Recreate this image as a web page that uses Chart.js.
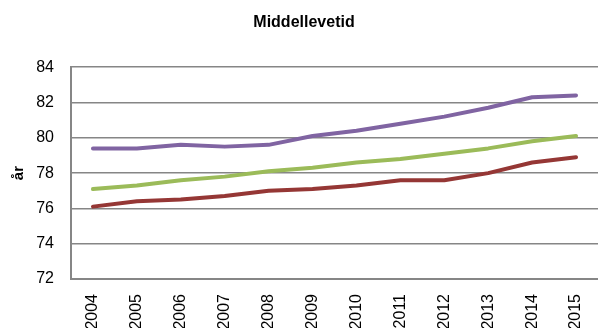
<!DOCTYPE html>
<html lang="no">
<head>
<meta charset="utf-8">
<script src="https://cdn.jsdelivr.net/npm/chart.js@4/dist/chart.umd.min.js"></script>
<style>
  html, body { margin: 0; padding: 0; background: #fff; }
  #wrap { width: 598px; height: 328px; }
</style>
</head>
<body>
<div id="wrap"><canvas id="chart" width="598" height="328"></canvas></div>
<script>
// data
const years = ['2004','2005','2006','2007','2008','2009','2010','2011','2012','2013','2014','2015'];
const purpleVals = [79.4, 79.4, 79.6, 79.5, 79.6, 80.1, 80.4, 80.8, 81.2, 81.7, 82.3, 82.4];
const greenVals  = [77.1, 77.3, 77.6, 77.8, 78.1, 78.3, 78.6, 78.8, 79.1, 79.4, 79.8, 80.1];
const redVals    = [76.1, 76.4, 76.5, 76.7, 77.0, 77.1, 77.3, 77.6, 77.6, 78.0, 78.6, 78.9];
const yTicks = [72, 74, 76, 78, 80, 82, 84];

const font = '"Liberation Sans", Arial, sans-serif';
const gridGrey = '#868686';

function line(data, color) {
  return {
    data: data,
    borderColor: color,
    backgroundColor: color,
    borderWidth: 4,
    pointRadius: 0,
    tension: 0,
    fill: false,
    borderCapStyle: 'round',
    borderJoinStyle: 'round'
  };
}

new Chart(document.getElementById('chart'), {
  type: 'line',
  data: {
    labels: years,
    datasets: [
      line(purpleVals, '#8064A2'),
      line(greenVals, '#9BBB59'),
      line(redVals, '#953735')
    ]
  },
  options: {
    responsive: false,
    animation: false,
    layout: { padding: { left: 10, right: 0, top: 0, bottom: 0 } },
    plugins: {
      legend: { display: false },
      tooltip: { enabled: false },
      title: {
        display: true,
        text: 'Middellevetid',
        color: '#000',
        font: { family: font, size: 16, weight: 'bold' },
        padding: { top: 13, bottom: 35 }
      }
    },
    scales: {
      x: {
        offset: true,
        grid: { display: false, drawTicks: false },
        border: { color: gridGrey, width: 2 },
        ticks: {
          color: '#000',
          font: { family: font, size: 16 },
          maxRotation: 90,
          minRotation: 90,
          autoSkip: false,
          padding: 15
        },
        afterFit: function(s) {
          s.height = 49;
          s.paddingRight = 0;  // plot runs to the right edge like the original
        }
      },
      y: {
        min: 72,
        max: 84,
        afterBuildTicks: function(s) { s.ticks = yTicks.map(v => ({ value: v })); },
        grid: { color: gridGrey, lineWidth: 1.5, drawTicks: false },
        border: { color: gridGrey, width: 2 },
        ticks: {
          color: '#000',
          font: { family: font, size: 16 },
          padding: 17
        },
        title: {
          display: true,
          text: 'år',
          color: '#000',
          font: { family: font, size: 15, weight: 'bold' },
          padding: 0
        },
        afterFit: function(s) { s.width = 61; }
      }
    }
  }
});
</script>
</body>
</html>
